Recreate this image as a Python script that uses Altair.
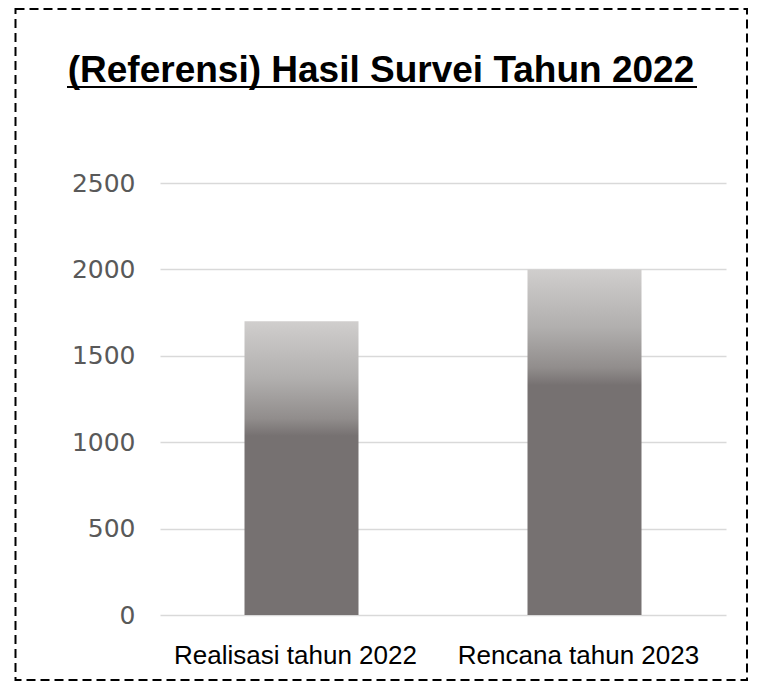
import altair as alt
import pandas as pd

# ---- data ----
categories = ["Realisasi tahun 2022", "Rencana tahun 2023"]
values = [1700, 2000]
y_ticks = [0, 500, 1000, 1500, 2000, 2500]
title_text = "(Referensi) Hasil Survei Tahun 2022"

df = pd.DataFrame({"kategori": categories, "nilai": values})
deco = pd.DataFrame({"k": [0]})

W, H = 566, 432
LIGHT = "#d0cecd"
MID = "#b1afae"
LOW = "#918d8c"
DARK = "#767171"


def grad(g):
    return alt.Gradient(
        gradient="linear",
        x1=0, x2=0, y1=0, y2=1,
        stops=[
            alt.GradientStop(color=LIGHT, offset=0),
            alt.GradientStop(color=MID, offset=g * 0.5),
            alt.GradientStop(color=LOW, offset=g * 0.85),
            alt.GradientStop(color=DARK, offset=g),
            alt.GradientStop(color=DARK, offset=1),
        ],
    )


x_enc = alt.X(
    "kategori:N",
    sort=None,
    title=None,
    scale=alt.Scale(paddingInner=0, paddingOuter=0),
    axis=alt.Axis(
        labelAngle=0,
        labelFont="Liberation Sans",
        labelFontSize=26,
        labelColor="#000000",
        labelBaseline="alphabetic",
        labelPadding=48,
        labelOffset=-6,
        labelLimit=0,
        ticks=False,
        domain=False,
        grid=False,
    ),
)
y_enc = alt.Y(
    "nilai:Q",
    title=None,
    scale=alt.Scale(domain=[0, 2500], nice=False),
    axis=alt.Axis(
        values=y_ticks,
        format="d",
        labelFont="DejaVu Sans",
        labelFontSize=25,
        labelColor="#595959",
        labelPadding=25,
        labelBaseline="middle",
        ticks=False,
        domain=False,
        grid=True,
        gridColor="#d9d9d9",
        gridWidth=1.5,
    ),
)

base = alt.Chart(df)
bar1 = base.transform_filter(alt.datum.kategori == categories[0]).mark_bar(
    size=114, color=grad(0.39)
).encode(x=x_enc, y=y_enc)
bar2 = base.transform_filter(alt.datum.kategori == categories[1]).mark_bar(
    size=114, color=grad(0.335)
).encode(x=x_enc, y=y_enc)

border = alt.Chart(deco).mark_rect(
    fill="transparent", stroke="#000000", strokeWidth=2, strokeDash=[9, 5], clip=False
).encode(
    x=alt.value(-144.5), x2=alt.value(587), y=alt.value(-174), y2=alt.value(497)
)

underline = alt.Chart(deco).mark_rule(
    color="#000000", strokeWidth=2, clip=False
).encode(
    x=alt.value(-93), x2=alt.value(537), y=alt.value(-96)
)

chart = alt.layer(bar1, bar2, border, underline).properties(
    width=W,
    height=H,
    padding={"left": 152, "top": 175, "right": 23, "bottom": 67},
    autosize=alt.AutoSizeParams(type="none"),
    title=alt.TitleParams(
        text=title_text,
        font="Liberation Sans",
        fontSize=37,
        fontWeight="bold",
        color="#000000",
        anchor="middle",
        baseline="alphabetic",
        dx=-62,
        dy=131,
        offset=20,
    ),
).configure(background="white").configure_view(strokeWidth=0, stroke="transparent")

chart.save("out.html", embed_options={"renderer": "svg", "actions": False})
